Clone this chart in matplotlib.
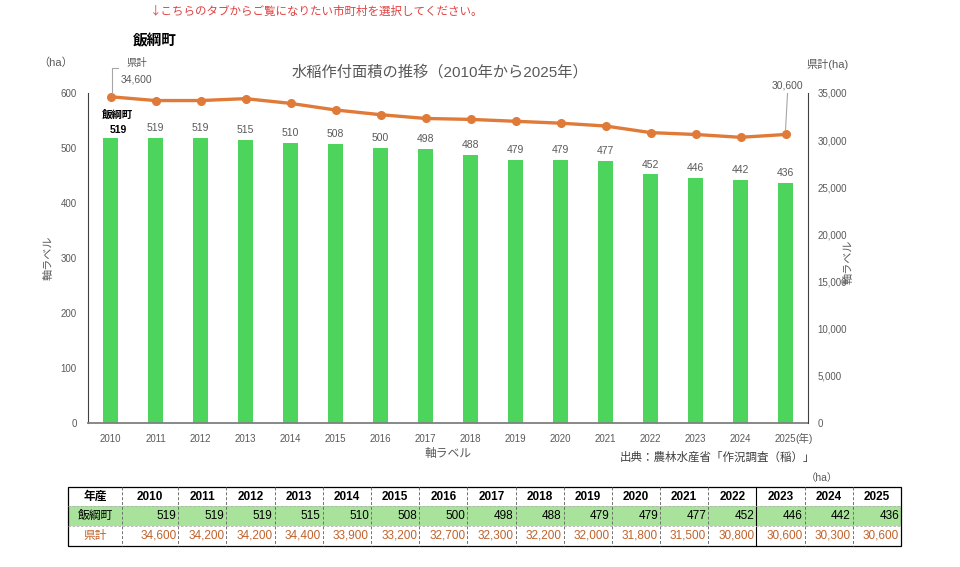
import matplotlib
matplotlib.use("Agg")
import matplotlib.pyplot as plt
from matplotlib.lines import Line2D
from matplotlib.patches import Rectangle
from matplotlib.transforms import IdentityTransform

plt.rcParams['font.family'] = ['Liberation Sans', 'Noto Sans CJK JP', 'DejaVu Sans']

years = [2010, 2011, 2012, 2013, 2014, 2015, 2016, 2017, 2018, 2019,
         2020, 2021, 2022, 2023, 2024, 2025]
town_area = [519, 519, 519, 515, 510, 508, 500, 498, 488, 479, 479, 477, 452, 446, 442, 436]
pref_area = [34600, 34200, 34200, 34400, 33900, 33200, 32700, 32300, 32200, 32000,
             31800, 31500, 30800, 30600, 30300, 30600]
town_name = "飯綱町"
pref_name = "県計"
left_ticks = [0, 100, 200, 300, 400, 500, 600]
right_ticks = [0, 5000, 10000, 15000, 20000, 25000, 30000, 35000]

GREEN = "#4CD45C"
ORANGE = "#E07A38"
GRAY = "#595959"
W, H = 960, 567
CJK = ['Noto Sans CJK JP', 'DejaVu Sans']

fig = plt.figure(figsize=(9.6, 5.67), dpi=100)

def fx(px):
    return px / W

def fy(py):
    return 1 - py / H

# main axes
ax = fig.add_axes([fx(88), fy(423), (808 - 88) / W, (423 - 93) / H])
x = list(range(len(years)))
bars = ax.bar(x, town_area, width=0.32, color=GREEN, zorder=2)
ax.set_xlim(-0.5, len(years) - 0.5)
ax.set_ylim(0, 600)
ax.set_yticks(left_ticks)
ax.set_xticks(x)
ax.set_xticklabels([str(y) for y in years])
ax.tick_params(axis='both', length=0, labelsize=7, labelcolor=GRAY)
ax.tick_params(axis='y', pad=8)
ax.tick_params(axis='x', pad=8)
ax.spines['top'].set_visible(False)
ax.spines['left'].set_color('#404040')
ax.spines['right'].set_visible(False)
ax.spines['bottom'].set_color('#7F7F7F')
ax.spines['bottom'].set_linewidth(1.3)
ax.set_facecolor('none')

labels = [''] + [str(v) for v in town_area[1:]]
ax.bar_label(bars, labels=labels, padding=3.5, fontsize=7.5, color=GRAY)

ax2 = ax.twinx()
ax2.plot(x, pref_area, color=ORANGE, lw=2.4, marker='o', ms=5.5, zorder=3)
ax2.set_ylim(0, 35000)
ax2.set_yticks(right_ticks)
ax2.set_yticklabels([f"{v:,}" for v in right_ticks])
ax2.tick_params(axis='y', length=0, labelsize=7, labelcolor=GRAY, pad=7)
ax2.spines['top'].set_visible(False)
ax2.spines['left'].set_visible(False)
ax2.spines['bottom'].set_visible(False)
ax2.spines['right'].set_color('#404040')

fig.canvas.draw()

def to_px(axis, xv, yv):
    dx, dy = axis.transData.transform((xv, yv))
    return dx, dy

# first bar label: town name + value, bold
bx, by = to_px(ax, 0, town_area[0])
fig.text((bx + 8) / W, (by + 3) / H, str(town_area[0]), ha='center', va='bottom',
         fontsize=7.5, fontweight='bold', color='black')
fig.text((bx + 7) / W, (by + 18) / H, town_name, ha='center', va='bottom',
         fontsize=7.5, fontweight='bold', color='black', family=CJK)

# line label at 2010 with leader
px0, py0 = to_px(ax2, 0, pref_area[0])
fig.add_artist(Line2D([px0 + 1, px0 + 1, px0 + 7], [py0 + 4, py0 + 29, py0 + 29],
                      color='#A6A6A6', lw=0.8, transform=IdentityTransform()))
fig.text((px0 + 26) / W, (py0 + 34) / H, pref_name, ha='center', va='center',
         fontsize=7.5, color=GRAY, family=CJK)
fig.text((px0 + 26) / W, (py0 + 17) / H, f"{pref_area[0]:,}", ha='center', va='center',
         fontsize=7.5, color=GRAY)

# line label at 2025 with leader
px1, py1 = to_px(ax2, len(years) - 1, pref_area[-1])
fig.add_artist(Line2D([px1, px1 + 2], [py1 + 4, py1 + 41],
                      color='#A6A6A6', lw=0.8, transform=IdentityTransform()))
fig.text((px1 + 2) / W, (py1 + 49) / H, f"{pref_area[-1]:,}", ha='center', va='center',
         fontsize=7.5, color=GRAY)

# texts
fig.text(fx(150), fy(11), "↓こちらのタブからご覧になりたい市町村を選択してください。",
         ha='left', va='center', fontsize=8.3, color='#E04040', family=CJK)
fig.text(fx(133), fy(40), town_name, ha='left', va='center', fontsize=10.5,
         fontweight='bold', color='black', family=CJK)
fig.text(fx(440), fy(72), "水稲作付面積の推移（2010年から2025年）", ha='center', va='center',
         fontsize=11, color=GRAY)
fig.text(fx(38), fy(63), "（ha）", ha='left', va='center', fontsize=8, color=GRAY)
fig.text(fx(806), fy(65), "県計(ha)", ha='left', va='center', fontsize=8, color=GRAY)
fig.text(fx(49), fy(258), "軸ラベル", ha='center', va='center', rotation=90,
         fontsize=8, color=GRAY, family=CJK)
fig.text(fx(849), fy(262), "軸ラベル", ha='center', va='center', rotation=90,
         fontsize=8, color=GRAY, family=CJK)
fig.text(fx(448), fy(453), "軸ラベル", ha='center', va='center', fontsize=8.5, color=GRAY,
         family=CJK)
fig.text(fx(795), fy(438), "(年)", ha='left', va='center', fontsize=7.5, color=GRAY)
fig.text(fx(815), fy(457), "出典：農林水産省「作況調査（稲）」", ha='right', va='center',
         fontsize=8.3, color='#404040', family=CJK)
fig.text(fx(822), fy(478), "（ha）", ha='center', va='center', fontsize=7.5, color=GRAY)

# table
tax = fig.add_axes([0, 0, 1, 1])
tax.set_xlim(0, W)
tax.set_ylim(H, 0)
tax.axis('off')
tax.patch.set_alpha(0)

t_left, t_right = 68, 901
t_top, r1, r2, t_bot = 487, 506, 526, 546
col_edges = [t_left, 122, 178.3]
rest_w = (t_right - 178.3) / (len(years) - 1)
for i in range(1, len(years)):
    col_edges.append(178.3 + rest_w * i)

tax.add_patch(Rectangle((t_left, r1), t_right - t_left, r2 - r1, color='#A9E29B', lw=0))
for i, xe in enumerate(col_edges[1:-1]):
    idx = i + 1
    if idx == 14:  # boundary between 2022 and 2023
        tax.plot([xe, xe], [t_top, t_bot], color='black', lw=0.8)
    else:
        tax.plot([xe, xe], [t_top, t_bot], color='#707070', lw=0.7, ls=(0, (3, 2)))
tax.plot([t_left, t_right], [r1, r1], color='#B0B0B0', lw=0.6, ls=(0, (3, 2)))
tax.plot([t_left, t_right], [r2, r2], color='#B0B0B0', lw=0.6, ls=(0, (3, 2)))
tax.add_patch(Rectangle((t_left, t_top), t_right - t_left, t_bot - t_top,
                        fill=False, ec='black', lw=0.9))

TXT_ORANGE = "#C0622A"
cy0, cy1, cy2 = (t_top + r1) / 2, (r1 + r2) / 2, (r2 + t_bot) / 2
tax.text((col_edges[0] + col_edges[1]) / 2, cy0, "年産", ha='center', va='center',
         fontsize=8.5, fontweight='bold', color='black', family=CJK)
tax.text((col_edges[0] + col_edges[1]) / 2, cy1, town_name, ha='center', va='center',
         fontsize=8.5, color='black', family=CJK)
tax.text((col_edges[0] + col_edges[1]) / 2, cy2, pref_name, ha='center', va='center',
         fontsize=8.5, color=TXT_ORANGE, family=CJK)
for i, yv in enumerate(years):
    l, r = col_edges[i + 1], col_edges[i + 2]
    tax.text((l + r) / 2, cy0, str(yv), ha='center', va='center', fontsize=8.5,
             fontweight='bold', color='black')
    tax.text(r - 2, cy1, str(town_area[i]), ha='right', va='center', fontsize=8.5,
             color='black')
    tax.text(r - 2, cy2, f"{pref_area[i]:,}", ha='right', va='center', fontsize=8.5,
             color=TXT_ORANGE)

fig.savefig("out.png", dpi=100)
